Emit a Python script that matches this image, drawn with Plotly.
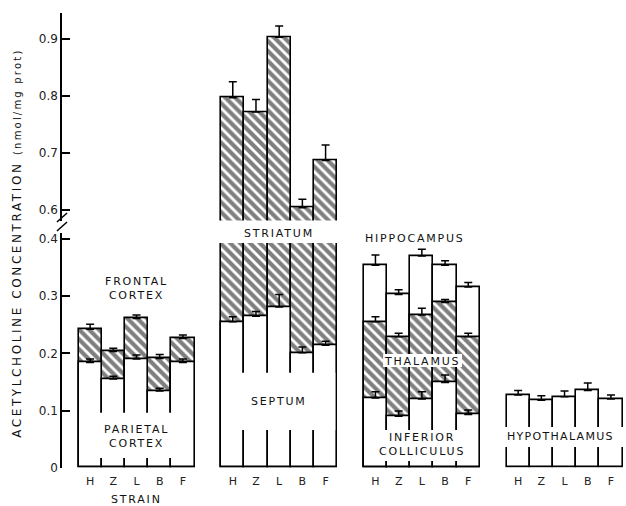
import plotly.graph_objects as go

# ---------------- data (nmol / mg prot) ----------------
strains = ["H", "Z", "L", "B", "F"]

frontal_cortex = [0.242, 0.203, 0.261, 0.191, 0.226]
frontal_err = [0.009, 0.006, 0.006, 0.007, 0.006]
parietal_cortex = [0.184, 0.155, 0.190, 0.134, 0.184]
parietal_err = [0.006, 0.005, 0.007, 0.005, 0.006]

striatum = [0.797, 0.772, 0.903, 0.604, 0.687]
striatum_err = [0.028, 0.022, 0.020, 0.015, 0.027]
septum = [0.255, 0.265, 0.281, 0.201, 0.214]
septum_err = [0.009, 0.008, 0.022, 0.010, 0.007]

hippocampus = [0.354, 0.303, 0.370, 0.354, 0.316]
hippocampus_err = [0.018, 0.008, 0.012, 0.008, 0.008]
thalamus = [0.255, 0.229, 0.267, 0.289, 0.229]
thalamus_err = [0.009, 0.006, 0.012, 0.005, 0.006]
inferior_colliculus = [0.122, 0.090, 0.120, 0.149, 0.093]
inferior_colliculus_err = [0.011, 0.009, 0.013, 0.013, 0.008]

hypothalamus = [0.127, 0.118, 0.124, 0.135, 0.120]
hypothalamus_err = [0.008, 0.008, 0.010, 0.013, 0.007]

lower_ticks = [0, 0.1, 0.2, 0.3, 0.4]
lower_ticktext = ["0", "0.1", "0.2", "0.3", "0.4"]
upper_ticks = [0.6, 0.7, 0.8, 0.9]
upper_ticktext = ["0.6", "0.7", "0.8", "0.9"]

# ---------------- layout helpers ----------------
W, H = 626, 506
PITCH = 6.15  # group spacing in bar widths
FONT = "DejaVu Sans"


def xs(g):
    return [g * PITCH + i for i in range(len(strains))]


def gc(g):
    return g * PITCH + (len(strains) - 1) / 2


def sp(text, ls=1.8):
    return "<br>".join(
        f'<span style="letter-spacing:{ls}px">{t}</span>' for t in text.split("\n")
    )


def bar(g, y, err, hatched, yaxis="y"):
    marker = dict(color="white", line=dict(color="black", width=1.6))
    if hatched:
        marker["pattern"] = dict(shape="\\", fgcolor="black", bgcolor="white",
                                 size=7, solidity=0.6)
    return go.Bar(
        x=xs(g), y=y, width=1, marker=marker, yaxis=yaxis,
        error_y=dict(type="data", symmetric=False, array=err,
                     arrayminus=[0] * len(err), color="black",
                     thickness=1.5, width=4),
        showlegend=False, hoverinfo="skip",
    )


fig = go.Figure()
# group 1: frontal (hatched) / parietal (white)
fig.add_trace(bar(0, frontal_cortex, frontal_err, True))
fig.add_trace(bar(0, parietal_cortex, parietal_err, False))
# group 2: striatum (hatched, both panels) / septum (white)
fig.add_trace(bar(1, striatum, striatum_err, True))
fig.add_trace(bar(1, striatum, striatum_err, True, yaxis="y2"))
fig.add_trace(bar(1, septum, septum_err, False))
# group 3: hippocampus / thalamus / inferior colliculus
fig.add_trace(bar(2, hippocampus, hippocampus_err, False))
fig.add_trace(bar(2, thalamus, thalamus_err, True))
fig.add_trace(bar(2, inferior_colliculus, inferior_colliculus_err, False))
# group 4: hypothalamus
fig.add_trace(bar(3, hypothalamus, hypothalamus_err, False))

tickvals = [v for g in range(4) for v in xs(g)]
ticktext = strains * 4

axis_common = dict(showgrid=False, zeroline=False, showline=True,
                   linecolor="black", linewidth=1.5, ticks="inside",
                   ticklen=8, tickwidth=1.5, tickcolor="black",
                   tickfont=dict(family=FONT, size=12, color="#222"))

fig.update_layout(
    width=W, height=H,
    margin=dict(l=62, r=0, t=0, b=0, autoexpand=False),
    paper_bgcolor="white", plot_bgcolor="white",
    barmode="overlay", bargap=0,
    xaxis=dict(range=[-1.211, 23.099], tickvals=tickvals, ticktext=ticktext,
               showgrid=False, zeroline=False, showline=False, ticks="",
               ticklabelstandoff=5,
               tickfont=dict(family=FONT, size=11, color="#222"),
               anchor="y", automargin=False),
    yaxis=dict(domain=[0.0757, 0.5391], range=[0, 0.41],
               tickvals=lower_ticks, ticktext=lower_ticktext,
               anchor="x", automargin=False, **axis_common),
    yaxis2=dict(domain=[0.5625, 0.9736], range=[0.58, 0.945],
                tickvals=upper_ticks, ticktext=upper_ticktext,
                anchor="x", automargin=False, **axis_common),
)

# white masks behind labels
masks = [
    dict(x0=-0.42, x1=4.42, y0=0.017, y1=0.096, yref="y"),
    dict(x0=PITCH - 0.42, x1=PITCH + 4.42, y0=0.066, y1=0.166, yref="y"),
    dict(x0=PITCH - 0.6, x1=PITCH + 4.6, y0=0.5198, y1=0.5640, yref="paper"),
    dict(x0=12.63, x1=16.03, y0=0.176, y1=0.199, yref="y"),
    dict(x0=2 * PITCH - 0.42, x1=2 * PITCH + 4.42, y0=0.0117, y1=0.066, yref="y"),
    dict(x0=3 * PITCH - 0.65, x1=3 * PITCH + 5.0, y0=0.036, y1=0.071, yref="y"),
]
for m in masks:
    fig.add_shape(type="rect", xref="x", layer="above", fillcolor="white",
                  line=dict(width=0), **m)

# axis break marks
for y0, y1 in [(0.5613, 0.5790), (0.5435, 0.5613)]:
    fig.add_shape(type="line", xref="paper", yref="paper", x0=-0.009, x1=0.009,
                  y0=y0, y1=y1, line=dict(color="black", width=1.5))

lab = dict(family=FONT, size=11, color="#111")
annots = [
    dict(text=sp("FRONTAL\nCORTEX"), x=gc(0), y=0.313, yref="y"),
    dict(text=sp("PARIETAL\nCORTEX"), x=gc(0), y=0.055, yref="y"),
    dict(text=sp("STRIATUM"), x=gc(1), y=0.5395, yref="paper"),
    dict(text=sp("SEPTUM"), x=gc(1), y=0.115, yref="y"),
    dict(text=sp("HIPPOCAMPUS"), x=14.0, y=0.4016, yref="y"),
    dict(text=sp("THALAMUS"), x=gc(2), y=0.1865, yref="y"),
    dict(text=sp("INFERIOR\nCOLLICULUS"), x=gc(2), y=0.04, yref="y"),
    dict(text=sp("HYPOTHALAMUS", 1.3), x=3 * PITCH - 0.55, y=0.0537, yref="y",
         xanchor="left"),
    dict(text=sp("STRAIN"), x=gc(0), y=0.012, yref="paper"),
]
for a in annots:
    a.setdefault("xanchor", "center")
    fig.add_annotation(xref="x", showarrow=False, yanchor="middle",
                       font=lab, **a)

fig.add_annotation(
    text=sp("ACETYLCHOLINE CONCENTRATION ", 2.6)
    + '<span style="font-size:10px;letter-spacing:2.2px">(nmol/mg prot)</span>',
    xref="paper", yref="paper", x=-0.0798, y=0.52, textangle=-90,
    showarrow=False, xanchor="center", yanchor="middle",
    font=dict(family=FONT, size=12, color="#111"),
)

fig.write_html(
    "out.html",
    config={"displayModeBar": False},
    post_script="document.body.style.margin='0px';document.body.style.padding='0px';",
)
